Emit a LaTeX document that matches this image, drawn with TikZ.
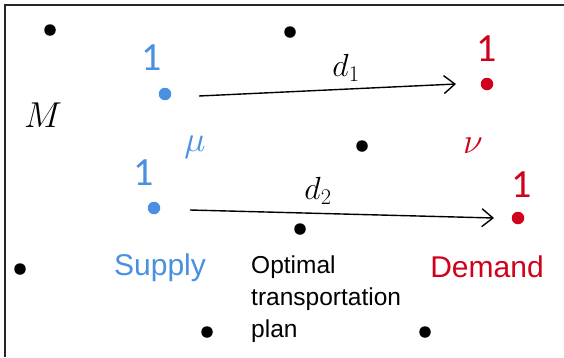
\RequirePackage{fix-cm}
\documentclass[tikz,border=0pt]{standalone}
\usepackage{fontspec}
\usetikzlibrary{arrows.meta}
\newfontfamily\arialf{Liberation Sans}
\newfontfamily\calibf{Carlito}
\definecolor{supblue}{RGB}{74,144,226}
\definecolor{demred}{RGB}{208,2,27}
\begin{document}
\begin{tikzpicture}[x=1pt,y=-1pt,
  dot/.style={circle,fill=black,inner sep=0pt,minimum size=11.5pt},
  bdot/.style={circle,fill=supblue,inner sep=0pt,minimum size=12.5pt},
  rdot/.style={circle,fill=demred,inner sep=0pt,minimum size=12.5pt},
  one/.style={inner sep=0pt,font=\calibf\fontsize{40}{40}\selectfont},
  mlab/.style={inner sep=0pt,font=\fontsize{36}{36}\selectfont},
  dlab/.style={inner sep=0pt,font=\fontsize{32}{32}\selectfont},
  bigtxt/.style={inner sep=0pt,font=\arialf\fontsize{30}{30}\selectfont},
  arr/.style={line width=1.4pt,-{Straight Barb[length=11pt,width=18pt,line width=1.4pt]}}]
\useasboundingbox (0,0) rectangle (564,357);
\fill[white] (0,0) rectangle (564,357);
\draw[line width=2pt,black!85] (5,357) -- (5,5) -- (564,5);
% black dots
\node[dot] (p1) at (50,30) {};
\node[dot] (p2) at (290,32) {};
\node[dot] (p3) at (362,146) {};
\node[dot] (p4) at (300,229) {};
\node[dot] (p5) at (20,269) {};
\node[dot] (p6) at (207,332) {};
\node[dot] (p7) at (425,332) {};
% supply and demand points
\node[bdot] (s1) at (165,94) {};
\node[bdot] (s2) at (154,208) {};
\node[rdot] (t1) at (487,84) {};
\node[rdot] (t2) at (518,218) {};
% masses
\node[one,text=supblue] (m1) at (152,58) {1};
\node[one,text=supblue] (m2) at (144,173) {1};
\node[one,text=demred] (n1) at (487,49) {1};
\node[one,text=demred] (n2) at (522,185) {1};
% labels
\node[mlab] (M) at (43,115) {$M$};
\node[mlab,text=supblue] (mu) at (195,147) {$\mu$};
\node[mlab,text=demred] (nu) at (473,146) {$\nu$};
\node[dlab] (d1) at (346,68) {$d_1$};
\node[dlab] (d2) at (318,191) {$d_2$};
% arrows
\coordinate (a1s) at (199,96);
\coordinate (a1e) at (456,84);
\coordinate (a2s) at (190,210);
\coordinate (a2e) at (494,218);
\draw[arr] (a1s) -- (a1e);
\draw[arr] (a2s) -- (a2e);
% bottom texts
\node[bigtxt,text=supblue] (sup) at (160,268) {Supply};
\node[bigtxt,text=demred] (dem) at (487,267) {Demand};
\node[inner sep=0pt,anchor=north west,align=left,font=\arialf\fontsize{24.5}{32}\selectfont] (otp) at (251,256) {Optimal\\transportation\\plan};
\end{tikzpicture}
\end{document}
